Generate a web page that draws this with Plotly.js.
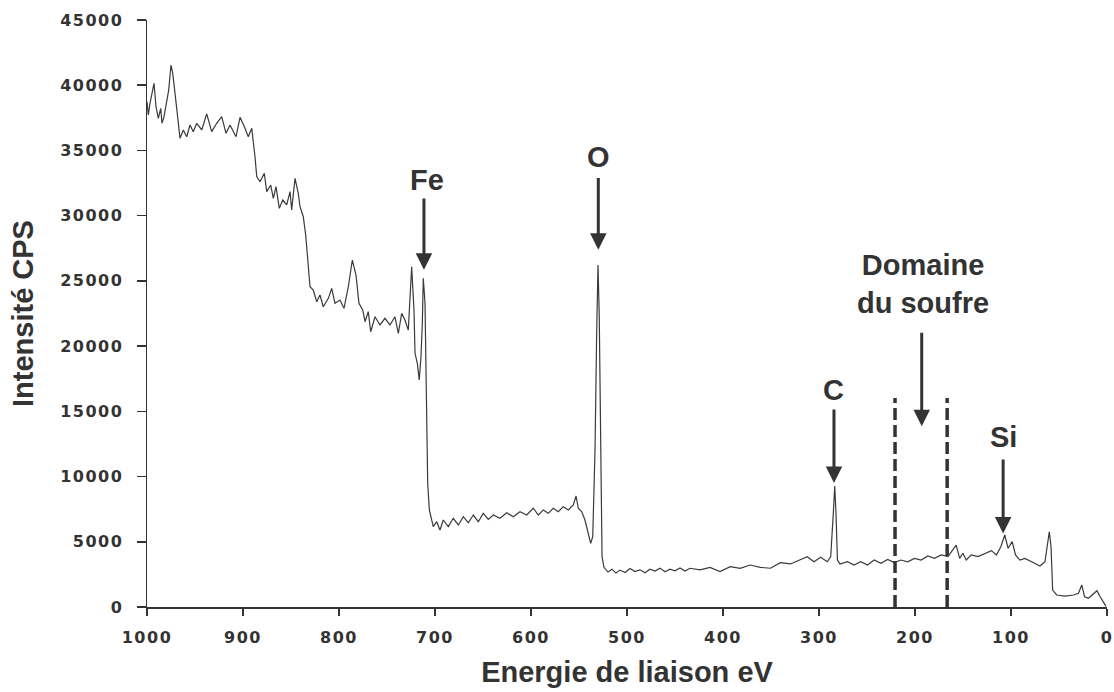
<!DOCTYPE html>
<html>
<head>
<meta charset="utf-8">
<script src="https://cdn.plot.ly/plotly-3.0.1.min.js"></script>
<style>
  html, body { margin: 0; padding: 0; background: #fff; }
  #chart { width: 1114px; height: 692px; }
  .xtick text, .ytick text { letter-spacing: 1.5px; }
</style>
</head>
<body>
<div id="chart"></div>
<script>
// Binding energy (eV)
var energy = [
  1000, 998.6, 996.9, 994.8, 992.7, 990.6, 988.2, 985.7, 984.4, 982.3, 979.5, 977.4, 975, 973.2, 970.8, 969.1, 967.4, 965.6,
  962.2, 958.6, 955.2, 951.8, 948.2, 943, 937.8, 932.6, 927.4, 922.2, 917.7, 913.5, 907.3, 903.1, 897.9, 894.5, 890.9, 889.3,
  887.5, 885.7, 882.3, 877.8, 875.3, 871.1, 868.4, 865.6, 862.2, 858.6, 854.5, 851, 849.3, 845.8, 842.4, 840.6, 837.2, 834.7,
  832.6, 830.2, 826.8, 823.2, 819.8, 816.4, 811.1, 807.6, 804.2, 799, 794.8, 790.3, 786.1, 782.3, 779.2, 775.3, 772.9, 769.5,
  767, 762.5, 757.3, 752.1, 746.9, 741.7, 738.2, 734.7, 731.3, 727.8, 724.3, 721.9, 720.8, 718.4, 716.4, 714.6, 713.2, 712.2,
  710.4, 708.6, 707.6, 705.9, 703.4, 701.8, 698.2, 694.8, 691.4, 686.1, 681, 675.7, 670.5, 665.3, 660.1, 654.9, 649.7, 644.5,
  639.3, 632.3, 625.3, 618.4, 611.5, 604.5, 597.6, 592.4, 587.2, 582, 576.8, 571.6, 566.4, 561.1, 555.9, 553.1, 550.7, 547.2,
  543.8, 540.3, 537.8, 535.7, 533.3, 531.6, 530.2, 528.9, 527.4, 526, 524, 519.8, 515.6, 511.5, 507.3, 502, 496.9, 491.7,
  486.5, 481.3, 476, 470.8, 465.6, 460.4, 455.2, 450, 444.8, 439.6, 434.4, 424, 413.5, 403.1, 392.5, 382.1, 371.6, 361.1,
  350.6, 340.2, 329.7, 319.3, 312.3, 305.2, 298.3, 291.4, 287.8, 285.1, 283.6, 282.3, 280.8, 278.1, 270.4, 263.5, 256.5, 249.5,
  242.5, 235.5, 228.5, 221.6, 214.6, 207.6, 200.6, 193.6, 186.7, 179.7, 172.7, 165.7, 160.5, 157.1, 153.5, 150.1, 146.6, 141.4,
  134.4, 127.4, 120.4, 115.2, 110.6, 106.5, 103, 98.8, 95.3, 90.7, 85.5, 78.5, 69.8, 64.6, 60.1, 58.3, 56.6, 52.4,
  43.8, 34.9, 29.7, 26.3, 23.4, 19.3, 14.1, 10.5, 7.1, 3.5, 1
];
// Intensity (CPS)
var intensity = [
  38740, 37720, 38610, 39380, 40150, 38350, 37460, 38230, 37080, 37590, 38870, 39630, 41550, 40910, 39380, 38100, 36820, 35930,
  36570, 36050, 36950, 36440, 37080, 36570, 37800, 36440, 37080, 37590, 36310, 36950, 36050, 37540, 36700, 36050, 36700, 35800,
  34520, 32990, 32600, 33250, 31840, 32350, 31330, 32220, 30560, 31200, 30820, 31840, 30430, 32860, 31710, 30690, 29920, 28520,
  26850, 24550, 24300, 23400, 23920, 23020, 23660, 24430, 23280, 23530, 22900, 24550, 26600, 25450, 23280, 22770, 21870, 22640,
  21100, 22250, 21620, 22130, 21620, 22250, 20980, 22510, 22000, 21230, 26090, 22770, 19450, 18680, 17400, 19190, 21750, 25200,
  23280, 15870, 9480, 7440, 6670, 6160, 6540, 5900, 6670, 6160, 6800, 6290, 6920, 6460, 7050, 6540, 7180, 6720,
  7050, 6800, 7230, 6920, 7310, 7050, 7570, 7050, 7440, 7180, 7570, 7310, 7690, 7440, 7820, 8510, 7570, 7310,
  6670, 5650, 4880, 5390, 12040, 20980, 26220, 22250, 9480, 3860, 3040, 2680, 2900, 2600, 2830, 2650, 2950, 2720,
  2850, 2620, 2900, 2750, 2980, 2700, 2900, 2780, 3000, 2760, 2970, 2840, 3040, 2710, 3090, 2970, 3220, 3040,
  2970, 3400, 3300, 3600, 3860, 3470, 3810, 3470, 3860, 7180, 9280, 7180, 3600, 3300, 3470, 3220, 3470, 3220,
  3600, 3350, 3650, 3400, 3600, 3470, 3730, 3600, 3910, 3730, 3990, 3860, 4370, 4750, 3730, 4120, 3600, 3990,
  3860, 4120, 4320, 3990, 4620, 5520, 4500, 5010, 3990, 3600, 3730, 3470, 3140, 3470, 5770, 4620, 1300, 920,
  840, 920, 1050, 1690, 790, 670, 1050, 1250, 790, 280, 50
];

// Peak labels and arrows
var labelText   = ['Fe', 'O', 'C', 'Domaine<br>du soufre', 'Si'];
var labelX      = [708.3, 530.2, 284.4, 191.7, 108.3];
var labelY      = [32750, 34510, 16660, 24780, 13060];
var arrowX      = [711.5, 529.9, 284.4, 193, 108.2];
var arrowTailY  = [31440, 33000, 15260, 21130, 11430];
var arrowTipY   = [25850, 27390, 9510, 13850, 5630];

// Sulfur window boundaries
var sulfurBounds = [220.8, 166.5];
var sulfurTop = 16020;

var xTicks = [1000, 900, 800, 700, 600, 500, 400, 300, 200, 100, 0];
var yTicks = [0, 5000, 10000, 15000, 20000, 25000, 30000, 35000, 40000, 45000];

var dark = '#333333';
var labelFont = {family: 'Liberation Sans, Arial, sans-serif', size: 29, color: dark, weight: 700};
var tickFont = {family: 'DejaVu Sans, sans-serif', size: 16, color: dark, weight: 700};

var annotations = [];
for (var i = 0; i < labelText.length; i++) {
  annotations.push({
    x: labelX[i], y: labelY[i], xref: 'x', yref: 'y',
    text: labelText[i], showarrow: false, font: labelFont,
    xanchor: 'center', yanchor: 'middle', align: 'center'
  });
  annotations.push({
    x: arrowX[i], y: arrowTipY[i], ax: arrowX[i], ay: arrowTailY[i],
    xref: 'x', yref: 'y', axref: 'x', ayref: 'y',
    text: '', showarrow: true, arrowhead: 2, arrowsize: 1.1, arrowwidth: 3,
    arrowcolor: dark, standoff: 0
  });
}

var shapes = sulfurBounds.map(function (b) {
  return {
    type: 'line', xref: 'x', yref: 'y', x0: b, x1: b, y0: 0, y1: sulfurTop,
    line: {color: dark, width: 3.5, dash: '12px,5px'}
  };
});

var trace = {
  x: energy, y: intensity, type: 'scatter', mode: 'lines',
  line: {color: '#3a3a3a', width: 1.2}, hoverinfo: 'x+y'
};

var layout = {
  width: 1114, height: 692,
  margin: {l: 147, r: 7, t: 20, b: 85},
  paper_bgcolor: '#ffffff', plot_bgcolor: '#ffffff',
  showlegend: false,
  xaxis: {
    range: [1000, 0], autorange: false,
    tickvals: xTicks, ticktext: xTicks.map(String),
    ticks: 'outside', ticklen: 7, tickwidth: 1.5, tickcolor: dark,
    showline: true, linecolor: dark, linewidth: 1.5,
    showgrid: false, zeroline: false,
    tickfont: tickFont, ticklabelstandoff: 8,
    title: {text: 'Energie de liaison eV', font: labelFont, standoff: 16}
  },
  yaxis: {
    range: [0, 45000], autorange: false,
    tickvals: yTicks, ticktext: yTicks.map(String),
    ticks: 'outside', ticklen: 9, tickwidth: 1.5, tickcolor: dark,
    showline: true, linecolor: dark, linewidth: 1.5,
    showgrid: false, zeroline: false,
    tickfont: tickFont, ticklabelstandoff: 10,
    title: {text: 'Intensité CPS', font: labelFont, standoff: 18}
  },
  annotations: annotations,
  shapes: shapes
};

Plotly.newPlot('chart', [trace], layout, {displayModeBar: false, staticPlot: true});
</script>
</body>
</html>
